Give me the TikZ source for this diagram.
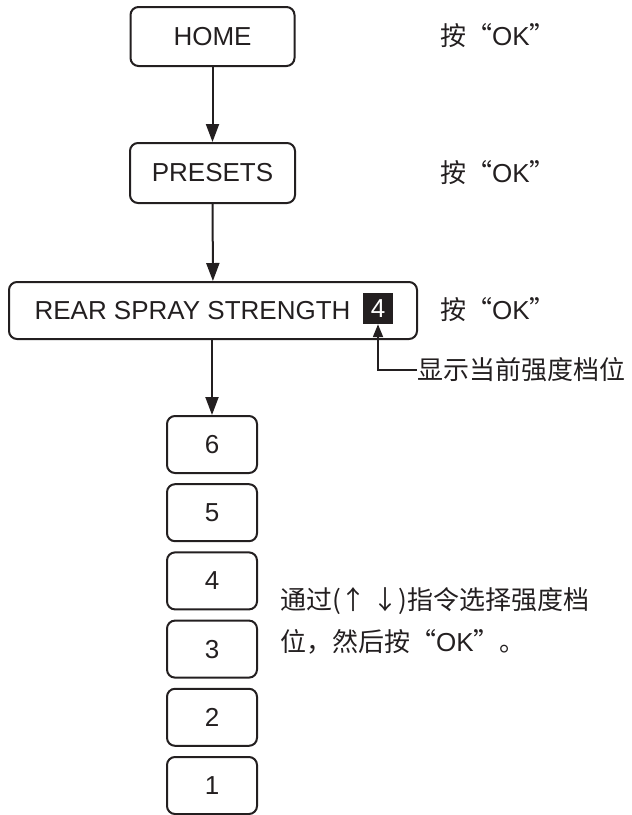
\documentclass[tikz,border=0pt]{standalone}
\usepackage{fontspec}
\setmainfont{Liberation Sans}
\newfontfamily\cjk{Noto Sans CJK SC}
\usetikzlibrary{arrows.meta}
\definecolor{ink}{HTML}{231F20}
\begin{document}
\begin{tikzpicture}[x=1pt,y=-1pt,
  every node/.style={text=ink, font=\fontsize{26}{31}\selectfont},
  menubox/.style={draw=ink, line width=2pt, rounded corners=8pt, minimum height=58pt, inner sep=0pt},
  levelbox/.style={menubox, minimum width=90pt, minimum height=57pt},
  flow/.style={draw=ink, line width=2pt, -{Triangle[length=18pt,width=13pt]}},
  note/.style={anchor=west, inner sep=0pt}
]
\useasboundingbox (0,0) rectangle (632,815);

\node[menubox, minimum width=164pt, minimum height=59pt] (home) at (212.5,36.5) {HOME};
\node[menubox, minimum width=165pt, minimum height=60pt] (presets) at (212.5,173) {PRESETS};
\node[menubox, minimum width=408pt, minimum height=57pt] (rear) at (213,310.5) {};
\node[inner sep=0pt] (reartxt) at (192.5,310.5) {REAR SPRAY STRENGTH};
\node[fill=ink, text=white, minimum width=30pt, minimum height=31pt, inner sep=0pt] (lvl) at (378,308.5) {4};

\foreach \n [count=\i from 0] in {6,5,4,3,2,1}
  \node[levelbox] (b\n) at (212, 444.5+68.2*\i) {\n};

\draw[flow] (home) -- (presets);
\draw[flow] (presets) -- (rear);
\draw[flow] (b6.north |- rear.south) -- (b6.north);

\node[note] (ok1) at (440,36) {{\cjk 按“}OK{\cjk ”}};
\node[note] (ok2) at (440,173) {{\cjk 按“}OK{\cjk ”}};
\node[note] (ok3) at (440,310) {{\cjk 按“}OK{\cjk ”}};

\node[note] (show) at (417,370) {\cjk 显示当前强度档位};
\draw[draw=ink, line width=2pt, -{Triangle[length=13pt,width=10pt]}] (show.west) -| (lvl.south);

\node[note, align=left, font=\fontsize{26}{42}\selectfont] (hint) at (280,621)
  {{\cjk 通过(↑ ↓)指令选择强度档}\\{\cjk 位，然后按“}OK{\cjk ”。}};
\end{tikzpicture}
\end{document}
